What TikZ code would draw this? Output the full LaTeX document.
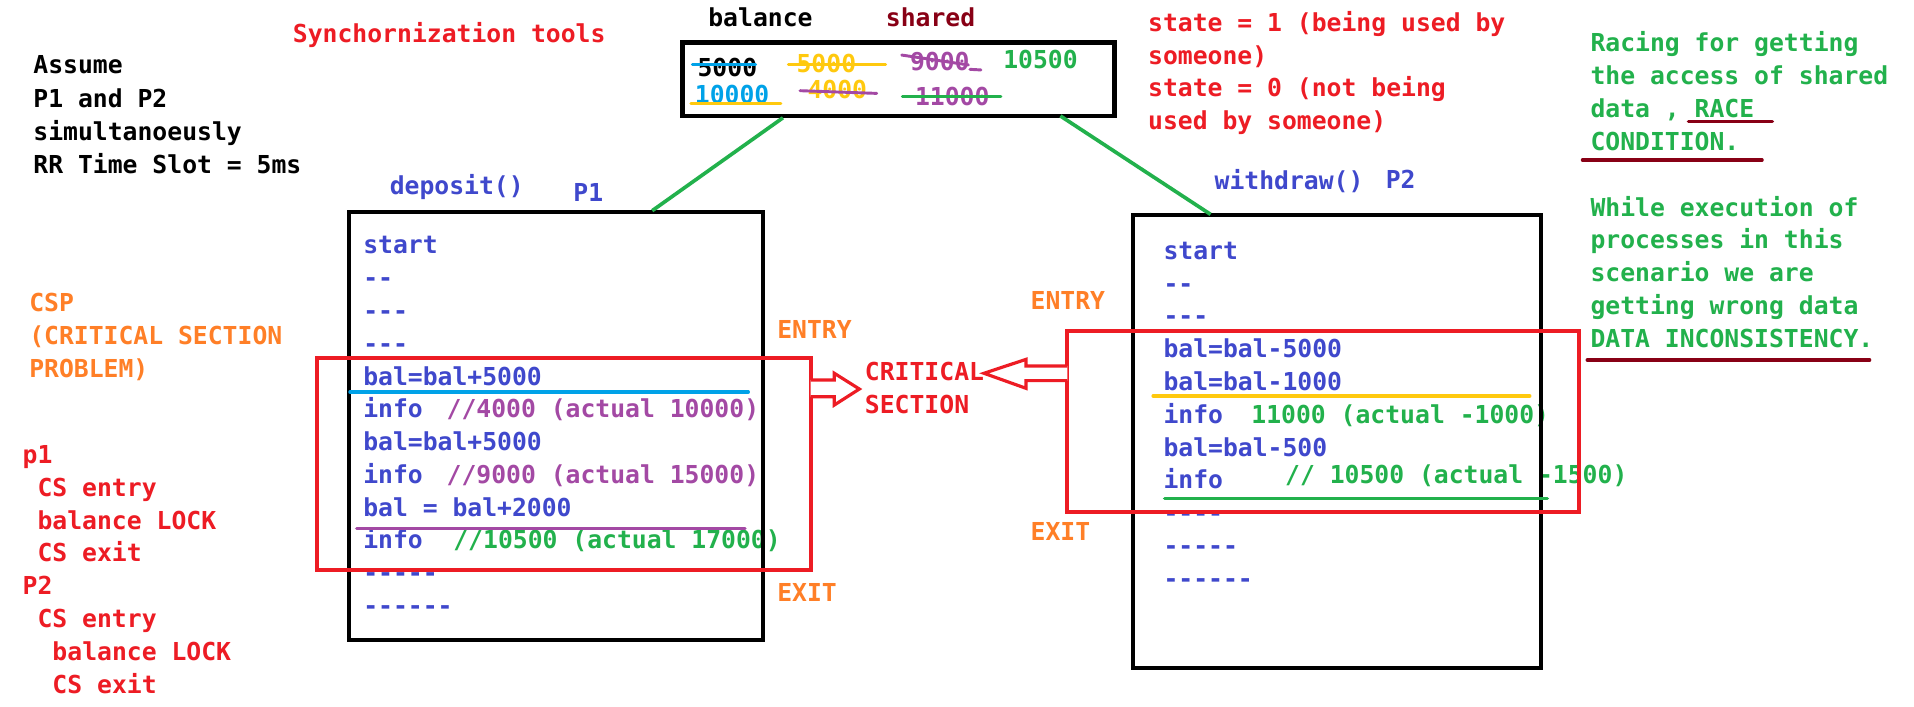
\documentclass[tikz,border=0pt]{standalone}
\usepackage{fontspec}
\setmonofont{DejaVu Sans Mono}
\definecolor{cblue}{HTML}{3F48CC}
\definecolor{cpurple}{HTML}{A349A4}
\definecolor{cgreen}{HTML}{22B14C}
\definecolor{ccyan}{HTML}{00A2E8}
\definecolor{cyellow}{HTML}{FFC90E}
\definecolor{cred}{HTML}{ED1C24}
\definecolor{corange}{HTML}{FF7F27}
\definecolor{cdark}{HTML}{880015}
\tikzset{
  txt/.style={anchor=base west, inner sep=0pt, outer sep=0pt,
    font=\ttfamily\bfseries\fontsize{20.25}{27}\selectfont},
  boxnode/.style={draw, line width=3.3pt, inner sep=0pt, outer sep=0pt, anchor=north west},
  uline/.style={line width=2.8pt, line cap=round},
  strike/.style={line width=2.4pt, line cap=round},
  conn/.style={draw=cgreen, line width=3pt},
  hollow/.style={draw=cred, line width=2.6pt, fill=white, line join=miter},
}
\begin{document}
\begin{tikzpicture}[x=1pt,y=-1pt]
\fill[white] (0,0) rectangle (1568,578.4);
\useasboundingbox (0,0) rectangle (1568,578.4);

% ---------- top-left texts ----------
\node[txt, text=cred] (sync) at (240,35) {Synchornization tools};
\foreach \t [count=\i] in {Assume, P1 and P2, simultanoeusly, RR Time Slot = 5ms}
  \node[txt] (assume\i) at (27.4,{60.6+(\i-1)*27.1}) {\t};

\node[txt, text=corange] (csp1) at (24,255.5) {CSP};
\node[txt, text=corange] (csp2) at (24,282.45) {(CRITICAL SECTION};
\node[txt, text=corange] (csp3) at (24,309.4) {PROBLEM)};

\node[txt, text=cred] (p1) at (18.6,379.6) {p1};
\node[txt, text=cred] (csa) at (30.8,406.5) {CS entry};
\node[txt, text=cred] (bla) at (30.8,433.4) {balance LOCK};
\node[txt, text=cred] (exa) at (30.8,460.3) {CS exit};
\node[txt, text=cred] (p2) at (18.6,487.2) {P2};
\node[txt, text=cred] (csb) at (30.8,514.1) {CS entry};
\node[txt, text=cred] (blb) at (43,541) {balance LOCK};
\node[txt, text=cred] (exb) at (43,567.9) {CS exit};

% ---------- shared box ----------
\node[txt] (balance) at (580.3,21.3) {balance};
\node[txt, text=cdark] (sharedlbl) at (725.8,21.3) {shared};
\node[txt] (n5000a) at (571.5,62.3) {5000};
\node[txt, text=cyellow] (n5000b) at (652.6,59.5) {5000};
\node[txt, text=cpurple] (n9000) at (745.5,57.9) {9000};
\node[txt, text=cgreen] (n10500) at (821.9,56) {10500};
\node[txt, text=ccyan] (n10000) at (569.3,84.7) {10000};
\node[txt, text=cyellow] (n4000) at (661.6,80.6) {4000};
\node[txt, text=cpurple] (n11000) at (749.6,86.8) {11000};
\draw[strike, ccyan] (567.2,52.7) -- (619,52.7);
\draw[strike, cyellow] (645.8,53.2) -- (725.6,53.2);
\draw[strike, cpurple] (738.7,45.1) -- (793.3,53.2) (794.6,56.8) -- (803.6,57.3);
\draw[strike, cyellow] (566,84.7) -- (639.8,84.7);
\draw[strike, cpurple] (655.4,74.3) -- (718.2,76.5);
\draw[strike, cgreen] (739.2,79.2) -- (820,79.2);
\node[boxnode, line width=3.8pt, minimum width=353.8pt, minimum height=60pt] (shared) at (559,35) {};

% ---------- state text ----------
\foreach \t [count=\i] in {state = 1 (being used by, someone), state = 0 (not being, used by someone)}
  \node[txt, text=cred] (state\i) at (940.6,{26+(\i-1)*26.6}) {\t};

% ---------- right green text ----------
\foreach \t [count=\i] in {Racing for getting, the access of shared, {data , RACE}, CONDITION.}
  \node[txt, text=cgreen] (race\i) at (1303,{42.3+(\i-1)*26.87}) {\t};
\foreach \t [count=\i] in {While execution of, processes in this, scenario we are, getting wrong data, DATA INCONSISTENCY.}
  \node[txt, text=cgreen] (incon\i) at (1303,{177+(\i-1)*26.87}) {\t};
\draw[uline, cdark] (1383.2,99.7) -- (1452,99.7);
\draw[uline, cdark] (1296.4,131.1) -- (1443.5,131.1);
\draw[uline, cdark] (1300.3,294.9) -- (1531.6,294.9);

% ---------- process labels ----------
\node[txt, text=cblue] (deposit) at (319.3,159.7) {deposit()};
\node[txt, text=cblue] (P1lbl) at (469.8,165.2) {P1};
\node[txt, text=cblue] (withdraw) at (995.1,155.1) {withdraw()};
\node[txt, text=cblue] (P2lbl) at (1135.3,154.3) {P2};

% ---------- left process text ----------
\foreach \t [count=\i] in {start, --, ---, ---, bal=bal+5000, info, bal=bal+5000, info, bal = bal+2000, info, -----, ------}
  \node[txt, text=cblue] (dl\i) at (297.6,{208+(\i-1)*26.85}) {\t};
\node[txt, text=cpurple] (dc6) at (365.9,342.25) {//4000 (actual 10000)};
\node[txt, text=cpurple] (dc8) at (365.9,395.95) {//9000 (actual 15000)};
\node[txt, text=cgreen] (dc10) at (371.4,449.65) {//10500 (actual 17000)};

% ---------- right process text ----------
\foreach \t [count=\i] in {start, --, ---, bal=bal-5000, bal=bal-1000, info, bal=bal-500, info, ----, -----, ------}
  \node[txt, text=cblue] (wl\i) at (953.2,{212.4+(\i-1)*26.87}) {\t};
\node[txt, text=cgreen] (wc6) at (1025.2,346.75) {11000 (actual -1000)};
\node[txt, text=cgreen] (wc8) at (1052.8,396) {// 10500 (actual -1500)};

% ---------- ENTRY / EXIT / CRITICAL SECTION ----------
\node[txt, text=corange] (entryL) at (636.8,277.2) {ENTRY};
\node[txt, text=corange] (exitL) at (636.8,492.9) {EXIT};
\node[txt, text=corange] (entryR) at (844.3,253.4) {ENTRY};
\node[txt, text=corange] (exitR) at (844.3,442.9) {EXIT};
\node[txt, text=cred] (crit1) at (708.6,311.8) {CRITICAL};
\node[txt, text=cred] (crit2) at (708.6,338.6) {SECTION};

% ---------- boxes ----------
\node[boxnode, minimum width=339.7pt, minimum height=350.9pt] (boxL) at (285.6,173.4) {};
\node[boxnode, minimum width=334.1pt, minimum height=371.1pt] (boxR) at (928.4,176.4) {};
\node[boxnode, draw=cred, minimum width=404.7pt, minimum height=174pt] (redL) at (259.4,293) {};
\node[boxnode, draw=cred, minimum width=418.8pt, minimum height=148.3pt] (redR) at (874.5,270.9) {};

% ---------- underlines in boxes ----------
\draw[uline, ccyan] (286.7,321.1) -- (613,321.1);
\draw[uline, cpurple] (292.2,432.8) -- (610.3,432.8);
\draw[uline, cyellow] (944.7,324.4) -- (1253.2,324.4);
\draw[uline, cgreen] (954.1,408.2) -- (1267.6,408.2);

% ---------- connectors ----------
\coordinate (sL) at (641.4,96.5);
\coordinate (tL) at (534.3,172.6);
\coordinate (sR) at (868.7,95);
\coordinate (tR) at (991.7,175.6);
\draw[conn] (sL) -- (tL);
\draw[conn] (sR) -- (tR);

% ---------- hollow arrows ----------
\draw[hollow] (664.1,311.3) -- (683.5,311.3) -- (683.5,305.8) -- (704,318.7)
  -- (683.5,331.8) -- (683.5,325) -- (664.1,325);
\draw[hollow] (874.5,299.8) -- (840.5,299.8) -- (840.5,294.4) -- (806.1,305.8)
  -- (840.5,318.1) -- (840.5,311.8) -- (874.5,311.8);
\end{tikzpicture}
\end{document}
